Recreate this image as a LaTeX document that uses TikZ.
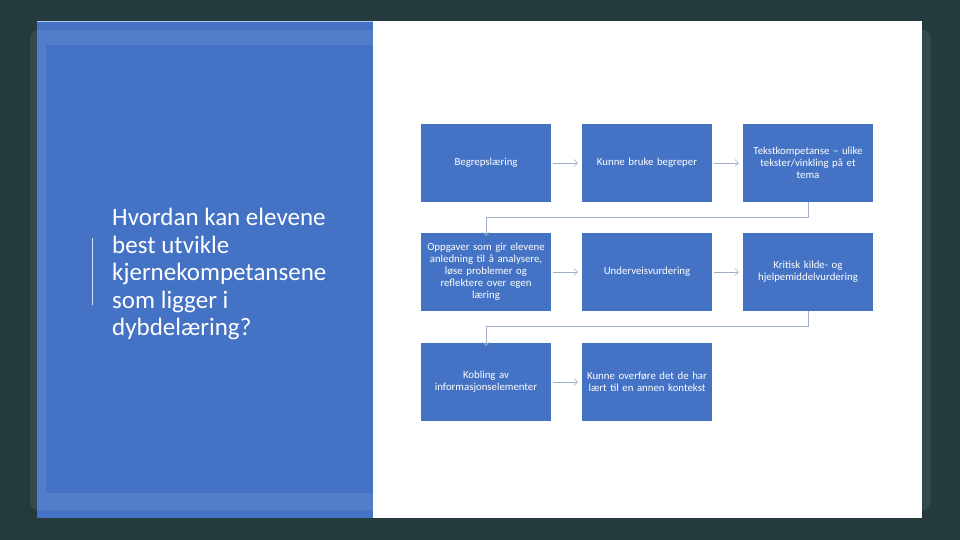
\documentclass[tikz,border=0pt]{standalone}
\usepackage{fontspec}
\setmainfont{Carlito}
\usepackage{tikz}
\usetikzlibrary{arrows.meta}

\definecolor{bgdark}{HTML}{243A3D}
\definecolor{slideblue}{HTML}{4472C4}
\definecolor{linkgray}{HTML}{A0AEC6}

\begin{document}
\begin{tikzpicture}[x=1pt, y=-1pt,
  step box/.style={rectangle, fill=slideblue, minimum width=130pt, minimum height=78pt, text width=124pt, align=center, text=white, font=\fontsize{10.8}{12}\selectfont, inner sep=2pt},
  flow/.style={draw=linkgray, thin, -{Straight Barb[length=3.5pt, width=7pt]}},
  turn/.style={draw=linkgray, thin, -{Straight Barb[length=3.5pt, width=7pt]}}]
  % backdrop and slide
  \fill[bgdark] (0,0) rectangle (960,540);
  \useasboundingbox (0,0) rectangle (960,540);
  \fill[white] (37,21) rectangle (922,518);
  \fill[slideblue] (37,21) rectangle (373,518);
  \draw[white, opacity=0.6, line width=0.6pt] (37,21.3) -- (373,21.3);
  \fill[white, fill opacity=0.08, even odd rule]
    [rounded corners=8pt] (30,30) rectangle (931,510)
    [sharp corners] (46,45) rectangle (915,493);
  % title
  \draw[white, opacity=0.8, line width=0.8pt] (92,238) -- (92,305);
  \node[anchor=north west, text=white, align=left, inner sep=0pt,
        font=\fontsize{25}{27.5}\selectfont] (title) at (112,208)
    {Hvordan kan elevene\\best utvikle\\kjernekompetansene\\som ligger i\\dybdelæring?};
  % flow boxes
  \node[step box] (A1) at (486,163) {Begrepslæring};
  \node[step box] (A2) at (647,163) {Kunne bruke begreper};
  \node[step box] (A3) at (808,163) {Tekstkompetanse – ulike\\tekster/vinkling på et\\tema};
  \node[step box] (B1) at (486,272) {Oppgaver som gir elevene\\anledning til å analysere,\\løse problemer og\\reflektere over egen\\læring};
  \node[step box] (B2) at (647,272) {Underveisvurdering};
  \node[step box] (B3) at (808,272) {Kritisk kilde- og\\hjelpemiddelvurdering};
  \node[step box] (C1) at (486,382) {Kobling av\\informasjonselementer};
  \node[step box] (C2) at (647,382) {Kunne overføre det de har\\lært til en annen kontekst};
  % connectors
  \draw[flow] ([xshift=2pt]A1.east) -- ([xshift=-4pt]A2.west);
  \draw[flow] ([xshift=2pt]A2.east) -- ([xshift=-4pt]A3.west);
  \draw[flow] ([xshift=2pt]B1.east) -- ([xshift=-4pt]B2.west);
  \draw[flow] ([xshift=2pt]B2.east) -- ([xshift=-4pt]B3.west);
  \draw[flow] ([xshift=2pt]C1.east) -- ([xshift=-4pt]C2.west);
  \draw[turn] (A3.south) -- ++(0,15) -| ([yshift=-3pt]B1.north);
  \draw[turn] (B3.south) -- ++(0,15) -| ([yshift=-3pt]C1.north);
\end{tikzpicture}
\end{document}
